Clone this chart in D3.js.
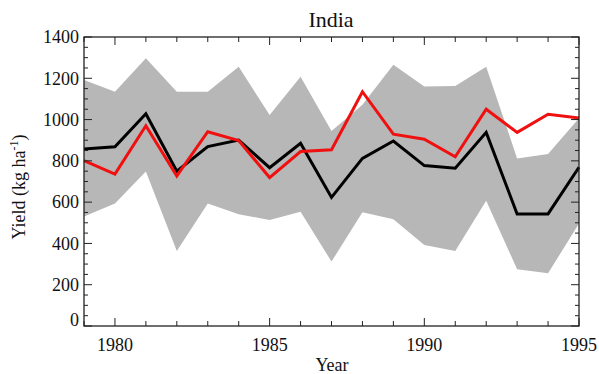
<!DOCTYPE html>
<html>
<head>
<meta charset="utf-8">
<script src="https://cdn.jsdelivr.net/npm/d3@7"></script>
<style>
  body { margin: 0; background: #fff; }
  svg text { font-family: "Liberation Serif", "DejaVu Serif", serif; fill: #111; }
</style>
</head>
<body>
<div id="chart"></div>
<script>
const years = [1979, 1980, 1981, 1982, 1983, 1984, 1985, 1986, 1987, 1988, 1989, 1990, 1991, 1992, 1993, 1994, 1995];
const observed = [858, 868, 1028, 750, 869, 901, 767, 885, 623, 812, 896, 777, 764, 938, 543, 543, 769];
const modelled = [801, 736, 970, 727, 941, 898, 719, 845, 854, 1135, 929, 905, 820, 1050, 938, 1026, 1008];
const bandUpper = [1192, 1135, 1297, 1135, 1135, 1256, 1022, 1208, 945, 1072, 1265, 1160, 1163, 1256, 812, 833, 1006];
const bandLower = [530, 594, 748, 363, 594, 541, 514, 554, 312, 551, 517, 392, 363, 607, 275, 255, 497];
const yTicks = [0, 200, 400, 600, 800, 1000, 1200, 1400];
const xTicks = [1980, 1985, 1990, 1995];

const margin = { top: 37, right: 20, bottom: 48, left: 84 },
      width = 599 - margin.left - margin.right,
      height = 374 - margin.top - margin.bottom;

const svg = d3.select("#chart").append("svg")
    .attr("width", 599)
    .attr("height", 374);

const g = svg.append("g")
    .attr("transform", `translate(${margin.left},${margin.top})`);

const x = d3.scaleLinear().domain([1979, 1995]).range([0, width]);
const y = d3.scaleLinear().domain([0, 1400]).range([height, 0]);

const rows = years.map((yr, i) => ({ yr, obs: observed[i], mod: modelled[i], hi: bandUpper[i], lo: bandLower[i] }));

// uncertainty band
g.append("path")
    .datum(rows)
    .attr("fill", "#b7b7b7")
    .attr("d", d3.area().x(d => x(d.yr)).y0(d => y(d.lo)).y1(d => y(d.hi)));

const line = key => d3.line().x(d => x(d.yr)).y(d => y(d[key]));

g.append("path").datum(rows)
    .attr("fill", "none").attr("stroke", "#000").attr("stroke-width", 3)
    .attr("stroke-linejoin", "miter")
    .attr("d", line("obs"));

g.append("path").datum(rows)
    .attr("fill", "none").attr("stroke", "#f01010").attr("stroke-width", 3)
    .attr("stroke-linejoin", "miter")
    .attr("d", line("mod"));

// frame
g.append("rect")
    .attr("width", width).attr("height", height)
    .attr("fill", "none").attr("stroke", "#222").attr("stroke-width", 1.3);

// ticks (inward, all four sides)
const minorY = d3.range(0, 1401, 50);
const allYears = d3.range(1979, 1996);
const tickG = g.append("g").attr("stroke", "#222").attr("stroke-width", 1);

minorY.forEach(v => {
    const len = v % 200 === 0 ? 8 : 4;
    tickG.append("line").attr("x1", 0).attr("x2", len).attr("y1", y(v)).attr("y2", y(v));
    tickG.append("line").attr("x1", width).attr("x2", width - len).attr("y1", y(v)).attr("y2", y(v));
});
allYears.forEach(v => {
    const len = v % 5 === 0 ? 8 : 5;
    tickG.append("line").attr("x1", x(v)).attr("x2", x(v)).attr("y1", height).attr("y2", height - len);
    tickG.append("line").attr("x1", x(v)).attr("x2", x(v)).attr("y1", 0).attr("y2", len);
});

// tick labels
g.selectAll(".ylab").data(yTicks).join("text")
    .attr("class", "ylab")
    .attr("x", -5)
    .attr("y", d => d === 0 ? y(d) - 6 : y(d))
    .attr("dy", "0.35em")
    .attr("text-anchor", "end")
    .style("font-size", "18px")
    .text(d => d);

g.selectAll(".xlab").data(xTicks).join("text")
    .attr("class", "xlab")
    .attr("x", d => x(d))
    .attr("y", height + 25)
    .attr("text-anchor", "middle")
    .style("font-size", "18px")
    .text(d => d);

// titles
svg.append("text")
    .attr("x", 331).attr("y", 27)
    .attr("text-anchor", "middle")
    .style("font-size", "22px")
    .text("India");

svg.append("text")
    .attr("x", 332).attr("y", 371)
    .attr("text-anchor", "middle")
    .style("font-size", "18px")
    .text("Year");

const yl = svg.append("text")
    .attr("transform", "translate(25,187) rotate(-90)")
    .attr("text-anchor", "middle")
    .style("font-size", "18px");
yl.append("tspan").text("Yield (kg ha");
yl.append("tspan").attr("dy", -7).style("font-size", "12px").text("-1");
yl.append("tspan").attr("dy", 7).text(")");
</script>
</body>
</html>
